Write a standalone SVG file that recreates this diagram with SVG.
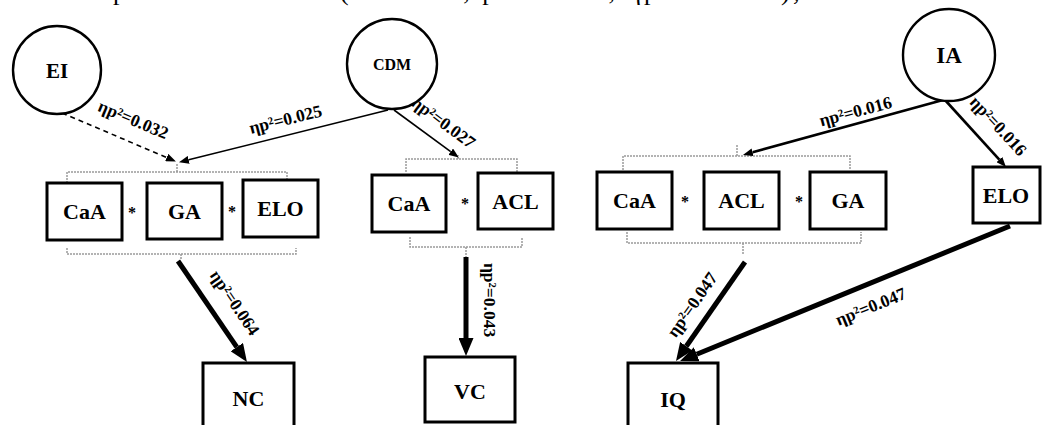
<svg xmlns="http://www.w3.org/2000/svg" width="1042" height="425" viewBox="0 0 1042 425">
<style>
  .node rect{fill:#fff;stroke:#000;stroke-width:3}
  .node circle{fill:#fff;stroke:#000;stroke-width:2.4}
  .lbl{font-family:"Liberation Serif",serif;font-weight:bold;font-size:22px;text-anchor:middle;fill:#000}
  .star{font-family:"Liberation Serif",serif;font-weight:bold;font-size:16px;text-anchor:middle;fill:#000}
  .el{font-family:"Liberation Serif",serif;font-weight:bold;font-size:17.5px;text-anchor:middle;fill:#000}
  .br{fill:none;stroke:#9a9a9a;stroke-width:1.5;stroke-dasharray:2,1}
  .thin{stroke:#000;stroke-width:1.6;fill:none}
  .mid{stroke:#000;stroke-width:2.6;fill:none}
  .thick{stroke:#000;stroke-width:5;fill:none}
  .cap{font-family:"Liberation Serif",serif;font-size:26px;fill:#000}
</style>
<defs>
  <marker id="ah" viewBox="0 0 10 8" refX="0" refY="4" markerWidth="10" markerHeight="8" markerUnits="userSpaceOnUse" orient="auto">
    <path d="M0,0 L10,4 L0,8 z" fill="#000"/>
  </marker>
  <marker id="ahT" viewBox="0 0 18 15" refX="0" refY="7.5" markerWidth="18" markerHeight="15" markerUnits="userSpaceOnUse" orient="auto">
    <path d="M0,0 L18,7.5 L0,15 z" fill="#000"/>
  </marker>
</defs>
<rect x="0" y="0" width="1042" height="425" fill="#fff"/>

<!-- cropped caption line at top (cut off in the reference) -->
<text class="cap" y="0"><tspan x="113">p</tspan></text>
<text class="cap" x="340" y="0" textLength="460" lengthAdjust="spacing">(F = 4.38, p = 0.013, ηp² = 0.016);</text>

<!-- brackets -->
<g id="brackets">
  <path class="br" d="M67,183 V172 H287 V183 M177,172 V163"/>
  <path class="br" d="M67,248 V254 H296 V248 M181,254 V260"/>
  <path class="br" d="M406,172 V159 H517 V172 M458,159 V155"/>
  <path class="br" d="M410,237 V247 H522 V237 M466,247 V257"/>
  <path class="br" d="M623,170 V156 H850 V170 M737,156 V145"/>
  <path class="br" d="M627,232 V243 H861 V232 M743,243 V255"/>
</g>

<!-- connectors -->
<g id="connectors">
  <line class="thin" x1="62" y1="113" x2="166.7" y2="157.5" stroke-dasharray="5,4" marker-end="url(#ah)"/>
  <line class="thin" x1="388" y1="110" x2="188.7" y2="159.8" marker-end="url(#ah)"/>
  <line class="thin" x1="394" y1="110" x2="450.7" y2="151.7" marker-end="url(#ah)"/>
  <line class="mid" x1="943" y1="100" x2="752.6" y2="152.3" marker-end="url(#ah)"/>
  <line class="mid" x1="945" y1="100" x2="999.3" y2="159.6" marker-end="url(#ah)"/>
  <line class="thick" x1="178" y1="261" x2="236.8" y2="347.1" marker-end="url(#ahT)"/>
  <line class="thick" x1="466" y1="257" x2="466" y2="338" marker-end="url(#ahT)"/>
  <line class="thick" x1="745" y1="262" x2="686.3" y2="346.2" marker-end="url(#ahT)"/>
  <line class="thick" x1="1010" y1="226" x2="696.7" y2="354.2" marker-end="url(#ahT)"/>

  <text class="el" transform="translate(131,125) rotate(23)">ηp²=0.032</text>
  <text class="el" transform="translate(287,125) rotate(-14)">ηp²=0.025</text>
  <text class="el" transform="translate(440,127) rotate(37)">ηp²=0.027</text>
  <text class="el" transform="translate(857,117) rotate(-15)">ηp²=0.016</text>
  <text class="el" transform="translate(994,130) rotate(47)">ηp²=0.016</text>
  <text class="el" transform="translate(230,306) rotate(56)">ηp²=0.064</text>
  <text class="el" transform="translate(484,300) rotate(90)">ηp²=0.043</text>
  <text class="el" transform="translate(697,308) rotate(-55)">ηp²=0.047</text>
  <text class="el" transform="translate(873,312) rotate(-22)">ηp²=0.047</text>
</g>

<!-- latent circles -->
<g id="EI" class="node"><circle cx="57" cy="70" r="44"/><text class="lbl" x="57" y="78" style="font-size:21px">EI</text></g>
<g id="CDM" class="node"><circle cx="392" cy="64" r="45"/><text class="lbl" x="392" y="70" style="font-size:16px">CDM</text></g>
<g id="IA" class="node"><circle cx="949" cy="55" r="46"/><text class="lbl" x="949" y="63" style="font-size:23px">IA</text></g>

<!-- left group -->
<g id="CaA1" class="node"><rect x="47" y="183" width="75" height="57"/><text class="lbl" x="84.5" y="219">CaA</text></g>
<text class="star" x="132" y="218">*</text>
<g id="GA1" class="node"><rect x="147" y="183" width="75" height="56"/><text class="lbl" x="184.5" y="219">GA</text></g>
<text class="star" x="232" y="217">*</text>
<g id="ELO1" class="node"><rect x="243" y="180" width="75" height="57"/><text class="lbl" x="280.5" y="216">ELO</text></g>

<!-- middle group -->
<g id="CaA2" class="node"><rect x="372" y="175" width="74" height="57"/><text class="lbl" x="409" y="211">CaA</text></g>
<text class="star" x="465" y="209">*</text>
<g id="ACL2" class="node"><rect x="478" y="173" width="75" height="56"/><text class="lbl" x="515.5" y="209">ACL</text></g>

<!-- right group -->
<g id="CaA3" class="node"><rect x="597" y="172" width="75" height="57"/><text class="lbl" x="634.5" y="208">CaA</text></g>
<text class="star" x="685" y="207">*</text>
<g id="ACL3" class="node"><rect x="704" y="172" width="75" height="57"/><text class="lbl" x="741.5" y="208">ACL</text></g>
<text class="star" x="799" y="207">*</text>
<g id="GA3" class="node"><rect x="810" y="172" width="76" height="57"/><text class="lbl" x="848" y="208">GA</text></g>
<g id="ELO3" class="node"><rect x="973" y="167" width="67" height="56"/><text class="lbl" x="1006" y="203">ELO</text></g>

<!-- outcomes -->
<g id="NC" class="node"><rect x="203" y="363" width="91" height="70"/><text class="lbl" x="248.5" y="406">NC</text></g>
<g id="VC" class="node"><rect x="425" y="357" width="90" height="65"/><text class="lbl" x="470" y="399">VC</text></g>
<g id="IQ" class="node"><rect x="628" y="363" width="90" height="70"/><text class="lbl" x="673" y="407">IQ</text></g>
</svg>
